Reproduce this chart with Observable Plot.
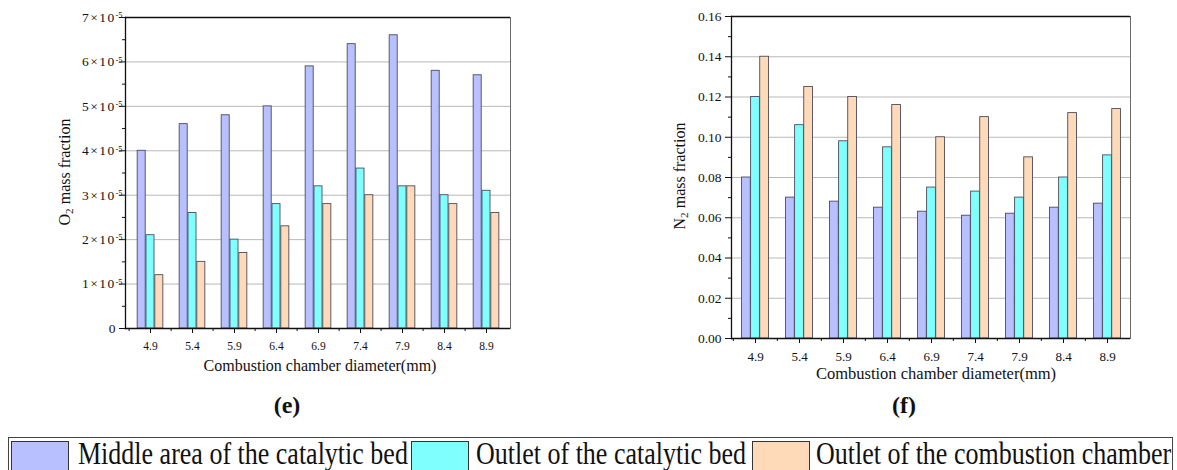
<!DOCTYPE html>
<html>
<head>
<meta charset="utf-8">
<script src="https://cdn.jsdelivr.net/npm/d3@7"></script>
<script src="https://cdn.jsdelivr.net/npm/@observablehq/plot@0.6"></script>
<style>
  html, body { margin: 0; padding: 0; background: #fff; }
  body { position: relative; width: 1177px; height: 470px; overflow: hidden;
         font-family: "Liberation Serif", "Times New Roman", serif; color: #111; }
  .panel { position: absolute; top: 0; }
  .panel svg, .panel svg text { font-family: "Liberation Serif", "Times New Roman", serif; }
  .title { position: absolute; white-space: nowrap; line-height: 1; transform: translate(-50%, -50%); }
  .ytitle { position: absolute; white-space: nowrap; line-height: 1; transform: translate(-50%, -50%) rotate(-90deg); }
  .ytitle sub { font-size: 0.7em; vertical-align: -0.25em; }
  .tag { position: absolute; font-weight: bold; font-size: 24px; line-height: 1; transform: translate(-50%, -50%); }
  #legend { position: absolute; left: 8px; top: 437px; width: 1165px; height: 60px;
            border: 1.5px solid #444; box-sizing: border-box; }
  .swatch { position: absolute; top: 441px; width: 58px; height: 40px; box-sizing: border-box;
            border: 1.6px solid #333; }
  .ltext { position: absolute; top: 443px; font-size: 26px; line-height: 26px; white-space: nowrap;
           transform-origin: 0 22px; transform: scaleY(1.2); }
</style>
</head>
<body>
<div id="left" class="panel" style="left:0px"></div>
<div id="right" class="panel" style="left:560px"></div>

<div class="ytitle" style="left:66px; top:172px; font-size:16px">O<sub>2</sub> mass fraction</div>
<div class="title" style="left:320px; top:366px; font-size:16px">Combustion chamber diameter(mm)</div>
<div class="tag" style="left:287px; top:405px">(e)</div>

<div class="ytitle" style="left:681px; top:176px; font-size:16px">N<sub>2</sub> mass fraction</div>
<div class="title" style="left:936px; top:374px; font-size:16.5px">Combustion chamber diameter(mm)</div>
<div class="tag" style="left:904px; top:405px">(f)</div>

<div id="legend"></div>

<script>
// Combustion chamber diameters (mm), one group of bars per diameter
const diameters = ["4.9", "5.4", "5.9", "6.4", "6.9", "7.4", "7.9", "8.4", "8.9"];

// Monitoring locations, one bar per location in each group
const seriesNames = [
  "Middle area of the catalytic bed",
  "Outlet of the catalytic bed",
  "Outlet of the combustion chamber"
];

// O2 mass fraction at each location
const o2Middle        = [4.0e-5, 4.6e-5, 4.8e-5, 5.0e-5, 5.9e-5, 6.4e-5, 6.6e-5, 5.8e-5, 5.7e-5];
const o2BedOutlet     = [2.1e-5, 2.6e-5, 2.0e-5, 2.8e-5, 3.2e-5, 3.6e-5, 3.2e-5, 3.0e-5, 3.1e-5];
const o2ChamberOutlet = [1.2e-5, 1.5e-5, 1.7e-5, 2.3e-5, 2.8e-5, 3.0e-5, 3.2e-5, 2.8e-5, 2.6e-5];

// N2 mass fraction at each location
const n2Middle        = [0.080, 0.070, 0.068, 0.065, 0.063, 0.061, 0.062, 0.065, 0.067];
const n2BedOutlet     = [0.120, 0.106, 0.098, 0.095, 0.075, 0.073, 0.070, 0.080, 0.091];
const n2ChamberOutlet = [0.140, 0.125, 0.120, 0.116, 0.100, 0.110, 0.090, 0.112, 0.114];

// Axis ticks
const o2Ticks = [0, 1e-5, 2e-5, 3e-5, 4e-5, 5e-5, 6e-5, 7e-5];
const o2MinorTicks = [0.5e-5, 1.5e-5, 2.5e-5, 3.5e-5, 4.5e-5, 5.5e-5, 6.5e-5];
const n2Ticks = [0, 0.02, 0.04, 0.06, 0.08, 0.10, 0.12, 0.14, 0.16];
const n2MinorTicks = [0.01, 0.03, 0.05, 0.07, 0.09, 0.11, 0.13, 0.15];

const seriesColors = ["#b8c0ff", "#80ffff", "#ffdab9"];
const serif = '"Liberation Serif", "Times New Roman", serif';

function groupedBars(cfg) {
  const n = diameters.length;
  const step = (cfg.width - cfg.marginLeft - cfg.marginRight) / n;
  const barW = step * 0.206;
  const lead = (step - 3 * barW) / 2;

  const barMarks = cfg.series.map((values, i) => {
    const rows = diameters.map((d, j) => ({diameter: d, value: values[j]}));
    return Plot.barY(rows, {
      x: "diameter", y: "value",
      fill: seriesColors[i], stroke: "#4c4c5c", strokeWidth: 0.9,
      insetLeft: lead + i * barW,
      insetRight: step - lead - (i + 1) * barW
    });
  });

  const yMax = cfg.yTicks[cfg.yTicks.length - 1];

  return Plot.plot({
    width: cfg.width, height: cfg.height,
    marginLeft: cfg.marginLeft, marginRight: cfg.marginRight,
    marginTop: cfg.marginTop, marginBottom: cfg.marginBottom,
    style: `font-family: ${serif}; color: #111; background: transparent; overflow: visible;`,
    x: {type: "band", domain: diameters, padding: 0, label: null},
    y: {domain: [0, yMax], label: null},
    marks: [
      Plot.gridY(cfg.yTicks.slice(1, -1), {stroke: "#b9b9b9", strokeOpacity: 1, strokeWidth: 1}),
      ...barMarks,
      Plot.frame({stroke: "#6a6a6a", strokeWidth: 1}),
      Plot.ruleY([yMax], {stroke: "#111", strokeWidth: 1.3}),
      Plot.ruleY([0], {stroke: "#111", strokeWidth: 1.3}),
      Plot.frame({anchor: "left", stroke: "#111", strokeWidth: 1.3}),
      Plot.axisY(cfg.yMinor, {tickSize: 3, tickFormat: () => "", label: null, stroke: "#111"}),
      Plot.axisY(cfg.yTicks, {tickSize: 6, tickPadding: cfg.yPad, tickFormat: cfg.tickFormat, label: null,
                              fontSize: cfg.yFont, fontFamily: serif, stroke: "#111", fill: "#111"}),
      Plot.axisX({tickSize: 5, tickPadding: cfg.xPad, label: null, fontSize: cfg.xFont, fontFamily: serif,
                  stroke: "#111", fill: "#111"}),
      Plot.axisX({tickSize: 3, tickFormat: () => "", label: null, dx: -step / 2, stroke: "#111"})
    ]
  });
}

// O2 panel, with exponent labels on the y axis
const left = groupedBars({
  series: [o2Middle, o2BedOutlet, o2ChamberOutlet],
  yTicks: o2Ticks, yMinor: o2MinorTicks,
  width: 560, height: 360, marginLeft: 125, marginRight: 50, marginTop: 17, marginBottom: 32,
  yFont: 13.5, xFont: 11.5, yPad: 4, xPad: 8,
  tickFormat: d => d === 0 ? "0" : `${Math.round(d * 1e5)}×10^-5`
});
document.getElementById("left").append(left);

// Split "a×10^-5" labels into a base and a raised exponent
d3.select(left).selectAll("text").each(function () {
  const m = /^(\d+)×10\^(-\d+)$/.exec(this.textContent);
  if (!m) return;
  const t = d3.select(this);
  t.text(m[1] + "×10");
  t.attr("dx", 7).attr("letter-spacing", "1.4");
  t.append("tspan").attr("dy", "-0.42em").attr("font-size", "0.62em").attr("letter-spacing", "0").text(m[2]);
});

// N2 panel
const right = groupedBars({
  series: [n2Middle, n2BedOutlet, n2ChamberOutlet],
  yTicks: n2Ticks, yMinor: n2MinorTicks,
  width: 617, height: 370, marginLeft: 171, marginRight: 47, marginTop: 16, marginBottom: 32,
  yFont: 13.5, xFont: 13, yPad: 4, xPad: 8,
  tickFormat: d3.format(".2f")
});
document.getElementById("right").append(right);

// Shared legend along the bottom
const swatchLeft = [11, 411, 752];
const textLeft = [78, 476, 816];
seriesNames.forEach((name, i) => {
  const sw = document.createElement("div");
  sw.className = "swatch";
  sw.style.left = swatchLeft[i] + "px";
  sw.style.background = seriesColors[i];
  document.body.append(sw);
  const tx = document.createElement("div");
  tx.className = "ltext";
  tx.style.left = textLeft[i] + "px";
  tx.textContent = name;
  document.body.append(tx);
});
</script>
</body>
</html>
